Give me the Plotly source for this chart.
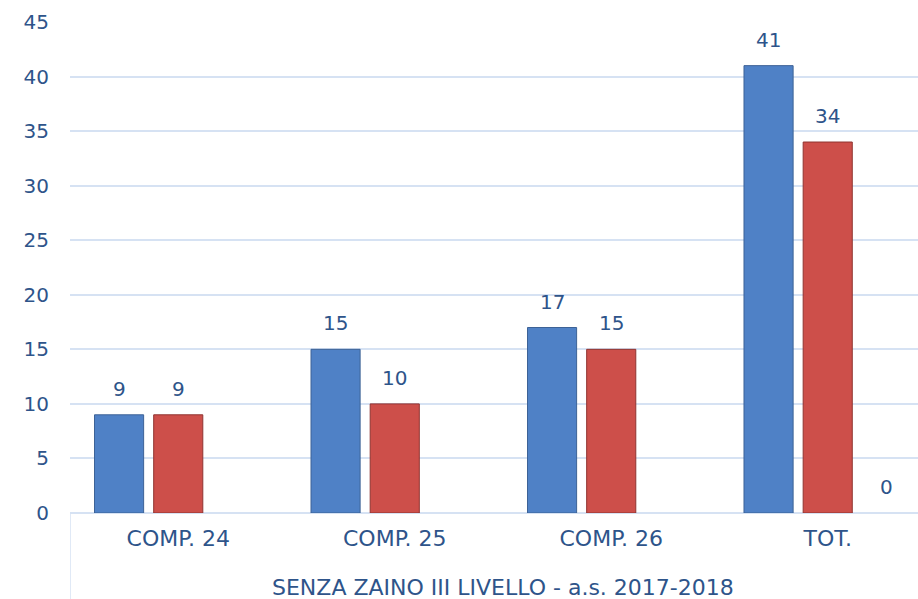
import plotly.graph_objects as go

categories = ["COMP. 24", "COMP. 25", "COMP. 26", "TOT."]
series_a = [9, 15, 17, 41]
series_b = [9, 10, 15, 34]
series_c = [None, None, None, 0]
group_label = "SENZA ZAINO III LIVELLO - a.s. 2017-2018"
y_ticks = [0, 5, 10, 15, 20, 25, 30, 35, 40, 45]

TEXT = "#2e548a"
GRID = "#d6e2f3"
FONT = "DejaVu Sans"
BARGAP = 0.18

series = [
    (series_a, "#4f81c6", "#3d6296"),
    (series_b, "#cd4f4a", "#8f3431"),
    (series_c, "#9bbb59", "#9bbb59"),
]

fig = go.Figure()
for vals, col, edge in series:
    fig.add_trace(go.Bar(
        x=categories, y=vals,
        marker=dict(color=col, line=dict(color=edge, width=1 if vals is not series_c else 0)),
        showlegend=False, hoverinfo="skip",
    ))

slot = (1 - BARGAP) / len(series)
annotations = []
for si, (vals, _, _) in enumerate(series):
    for ci, v in enumerate(vals):
        if v is None:
            continue
        annotations.append(dict(
            x=ci + (si - (len(series) - 1) / 2) * slot, y=v, xref="x", yref="y",
            text=str(v), showarrow=False, yanchor="bottom", yshift=12,
            font=dict(family=FONT, size=20, color=TEXT),
        ))

# group label centered over the full category span
annotations.append(dict(
    x=(len(categories) - 1) / 2, xref="x", y=-0.151, yref="paper",
    text=group_label, showarrow=False, yanchor="middle",
    font=dict(family=FONT, size=22, color=TEXT),
))

fig.update_layout(
    width=918, height=599,
    margin=dict(l=70, r=0, t=22, b=86, autoexpand=False),
    plot_bgcolor="white", paper_bgcolor="white",
    barmode="group", bargap=BARGAP, bargroupgap=0.17,
    font=dict(family=FONT, size=20, color=TEXT),
    xaxis=dict(range=[-0.5, 3.417], showgrid=False, showline=False, ticks="", automargin=False,
               ticklabelstandoff=10, tickfont=dict(size=22, color=TEXT)),
    yaxis=dict(range=[0, 45], tickvals=y_ticks, showgrid=True, gridcolor=GRID, gridwidth=1.5,
               zeroline=True, zerolinecolor=GRID, zerolinewidth=1.5, showline=False, ticks="",
               automargin=False, ticklabelstandoff=20, tickfont=dict(size=20, color=TEXT)),
    annotations=annotations,
    shapes=[dict(type="line", xref="x", x0=-0.5, x1=-0.5, yref="paper", y0=0, y1=-0.2,
                 line=dict(color=GRID, width=1.5))],
)

fig.write_html("out.html", config={"displayModeBar": False},
               post_script="document.body.style.margin='0';")
